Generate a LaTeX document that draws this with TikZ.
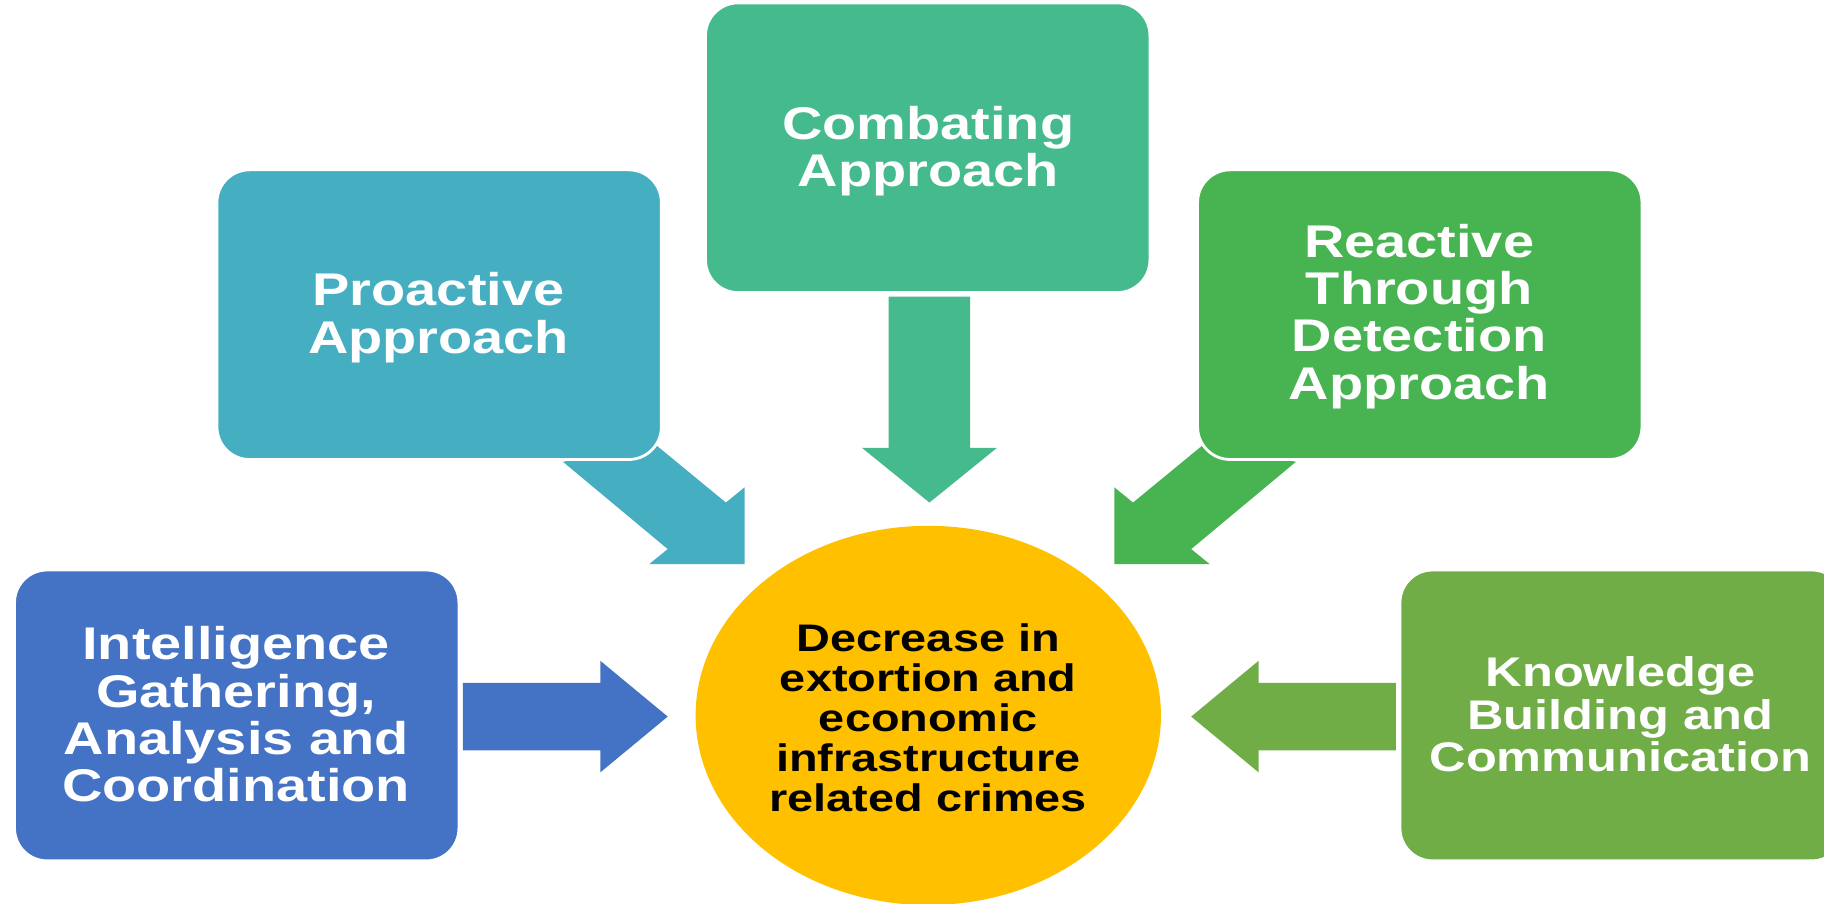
\documentclass[tikz,border=0pt]{standalone}
\usepackage{fontspec}
\setmainfont{Liberation Sans}
\usetikzlibrary{shapes.geometric}
\definecolor{cComb}{HTML}{45BA8C}
\definecolor{cPro}{HTML}{45AEC1}
\definecolor{cRea}{HTML}{48B451}
\definecolor{cInt}{HTML}{4472C4}
\definecolor{cKno}{HTML}{70AD47}
\definecolor{cGold}{HTML}{FFC000}
\begin{document}
\begin{tikzpicture}[x=0.5pt,y=-0.5pt,
  card/.style={draw=white,line width=1.2pt,rounded corners=14pt,inner sep=0pt,
    minimum width=191pt,minimum height=124.5pt},
  wtext/.style={text=white,font=\fontsize{19.7}{20.3}\selectfont\bfseries,
    align=center,xscale=1.22,inner sep=0pt},
  wsmall/.style={wtext,font=\fontsize{17.8}{18.2}\selectfont\bfseries},
  btext/.style={text=black,font=\fontsize{16.5}{17.2}\selectfont\bfseries,
    align=center,xscale=1.22,inner sep=0pt}]
\useasboundingbox (0,0) rectangle (1568,777);
\clip (0,0) rectangle (1568,777);
\fill[white] (0,0) rectangle (1568,777);

% block arrows
\fill[cPro] (484,397) -- (562,381) -- (624,432) -- (640,419) -- (640,485)
  -- (558,485) -- (574,472) -- cycle;
\fill[cRea] (1114,397) -- (1036,381) -- (974,432) -- (958,419) -- (958,485)
  -- (1040,485) -- (1024,472) -- cycle;
\fill[cComb] (764,255) -- (834,255) -- (834,385) -- (857,385) -- (799,432)
  -- (741,385) -- (764,385) -- cycle;
\fill[cInt] (398,587) -- (516,587) -- (516,568) -- (574,616) -- (516,664)
  -- (516,645) -- (398,645) -- cycle;
\fill[cKno] (1200,587) -- (1082,587) -- (1082,568) -- (1024,616) -- (1082,664)
  -- (1082,645) -- (1200,645) -- cycle;

% boxes
\node[card,fill=cComb] (comb) at (797.5,127) {};
\node[card,fill=cPro] (pro) at (377.5,270.5) {};
\node[card,fill=cRea] (rea) at (1220.5,270.5) {};
\node[card,fill=cInt,minimum height=125pt] (int) at (203.5,615) {};
\node[card,fill=cKno,minimum height=125pt] (kno) at (1394.5,615) {};
\node[ellipse,fill=cGold,inner sep=0pt,minimum width=200pt,minimum height=163pt] (goal) at (798,615) {};

% texts
\node[wtext] (tcomb) at (798,130) {Combating\\Approach};
\node[wtext] (tpro) at (377,273) {Proactive\\Approach};
\node[wtext] (trea) at (1220,272) {Reactive\\Through\\Detection\\Approach};
\node[wtext] (tint) at (203,614) {Intelligence\\Gathering,\\Analysis and\\Coordination};
\node[wsmall] (tkno) at (1393,614) {Knowledge\\Building and\\Communication};
\node[btext] (tgoal) at (798,617) {Decrease in\\extortion and\\economic\\infrastructure\\related crimes};
\end{tikzpicture}
\end{document}
